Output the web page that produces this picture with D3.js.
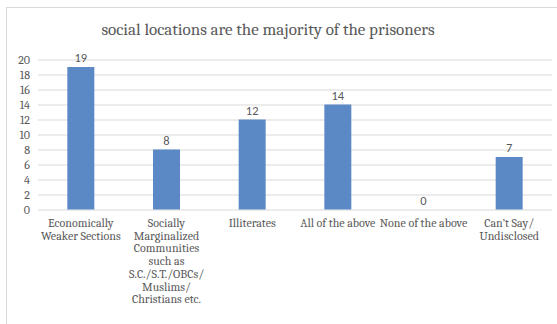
<!DOCTYPE html>
<html>
<head>
<meta charset="utf-8">
<script src="https://cdn.jsdelivr.net/npm/d3@7"></script>
<style>
  body { margin: 0; background: #fff; }
  .grid line { stroke: #d9d9d9; }
  .grid path { display: none; }
</style>
</head>
<body>
<div class="chart"></div>
<script>
var categories = [
  ["Economically", "Weaker Sections"],
  ["Socially", "Marginalized", "Communities", "such as", "S.C./S.T./OBCs/", "Muslims/", "Christians etc."],
  ["Illiterates"],
  ["All of the above"],
  ["None of the above"],
  ["Can\u2019t Say/", "Undisclosed"]
];
var values = [19, 8, 12, 14, 0, 7];
var yTicks = [0, 2, 4, 6, 8, 10, 12, 14, 16, 18, 20];
var title = "social locations are the majority of the prisoners";

var width = 557, height = 324;
var serif = "Cambria, 'Liberation Serif', 'DejaVu Serif', serif";
var sans = "Calibri, Carlito, 'Liberation Sans', Arial, sans-serif";

var svg = d3.select(".chart").append("svg")
    .attr("width", width)
    .attr("height", height);

// chart area frame (right and bottom run off the picture)
svg.append("rect")
    .attr("x", 6.5).attr("y", 7.5)
    .attr("width", 560).attr("height", 330)
    .attr("fill", "#fff")
    .attr("stroke", "#d9d9d9");

svg.append("text")
    .attr("x", 268).attr("y", 35)
    .attr("text-anchor", "middle")
    .attr("font-family", serif)
    .attr("font-size", 17)
    .attr("fill", "#595959")
    .text(title);

var x = d3.scaleBand()
    .domain(d3.range(values.length))
    .range([38, 552])
    .paddingInner(0.685)
    .paddingOuter(0.3425);

var y = d3.scaleLinear()
    .domain([0, 20])
    .range([209.5, 59.5]);

svg.append("g")
    .attr("class", "grid")
    .attr("transform", "translate(38,0)")
    .call(d3.axisLeft(y).tickValues(yTicks).tickSize(-514).tickFormat(""));

svg.append("g")
    .selectAll("text")
    .data(yTicks)
    .enter().append("text")
    .attr("x", 30)
    .attr("y", function(d) { return y(d) + 4; })
    .attr("text-anchor", "end")
    .attr("font-family", serif)
    .attr("font-size", 12)
    .attr("fill", "#595959")
    .text(function(d) { return d; });

svg.append("g")
    .selectAll("rect")
    .data(values)
    .enter().append("rect")
    .attr("x", function(d, i) { return x(i); })
    .attr("y", function(d) { return y(d); })
    .attr("width", x.bandwidth())
    .attr("height", function(d) { return y(0) - y(d); })
    .attr("fill", "#5b89c6");

svg.append("g")
    .selectAll("text")
    .data(values)
    .enter().append("text")
    .attr("x", function(d, i) { return x(i) + x.bandwidth() / 2; })
    .attr("y", function(d) { return y(d) - 5; })
    .attr("text-anchor", "middle")
    .attr("font-family", sans)
    .attr("font-size", 12.5)
    .attr("fill", "#595959")
    .text(function(d) { return d; });

var labels = svg.append("g")
    .selectAll("text")
    .data(categories)
    .enter().append("text")
    .attr("text-anchor", "middle")
    .attr("font-family", serif)
    .attr("font-size", 12)
    .attr("fill", "#595959");

labels.selectAll("tspan")
    .data(function(d, i) { return d.map(function(s) { return {s: s, i: i}; }); })
    .enter().append("tspan")
    .attr("x", function(d) { return x(d.i) + x.bandwidth() / 2; })
    .attr("y", function(d, j) { return 227 + j * 12.7; })
    .text(function(d) { return d.s; });
</script>
</body>
</html>
